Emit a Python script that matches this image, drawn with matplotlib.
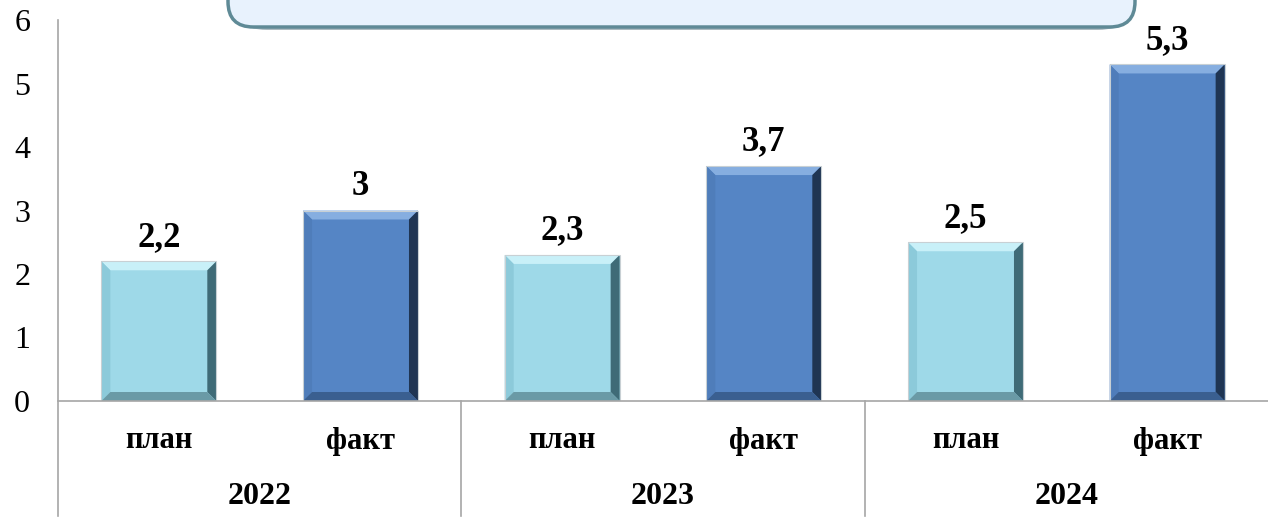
import matplotlib.pyplot as plt
from matplotlib.patches import Polygon, FancyBboxPatch
from matplotlib.lines import Line2D

years = ['2022', '2023', '2024']
kinds = ['план', 'факт']
plan = [2.2, 2.3, 2.5]
fakt = [3, 3.7, 5.3]
plan_lbl = ['2,2', '2,3', '2,5']
fakt_lbl = ['3', '3,7', '5,3']

plt.rcParams['font.family'] = ['Liberation Serif', 'DejaVu Serif']

W, H = 1268, 520
fig = plt.figure(figsize=(W / 100, H / 100), dpi=100)
ax = fig.add_axes([58 / W, 1 - 401 / H, 1 - 58 / W, (401 - 20) / H])
ax.set_xlim(0, 6)
ax.set_ylim(0, 6)

# пиксели -> единицы данных
px_x = 6 / (W - 58)
px_y = 6 / (401 - 20)

# цвета: лицевая грань, верх, левый, правый, низ
col_plan = ['#9ed9e8', '#c8f0f8', '#8ccada', '#3f6b77', '#6a9aa6']
col_fakt = ['#5585c5', '#86aee0', '#4f7dba', '#1f3553', '#3a5f90']

def bevel_bar(x0, w, h, cols):
    bx = 9 * px_x
    by = 9 * px_y
    x1 = x0 + w
    face, top, left, right, bot = cols
    ax.add_patch(Polygon([(x0, 0), (x1, 0), (x1, h), (x0, h)], closed=True, fc=face, ec='none'))
    ax.add_patch(Polygon([(x0, h), (x1, h), (x1 - bx, h - by), (x0 + bx, h - by)], fc=top, ec='none'))
    ax.add_patch(Polygon([(x0, 0), (x0 + bx, by), (x0 + bx, h - by), (x0, h)], fc=left, ec='none'))
    ax.add_patch(Polygon([(x1, 0), (x1, h), (x1 - bx, h - by), (x1 - bx, by)], fc=right, ec='none'))
    ax.add_patch(Polygon([(x0, 0), (x1, 0), (x1 - bx, by), (x0 + bx, by)], fc=bot, ec='none'))
    ax.add_patch(Polygon([(x0, 0), (x1, 0), (x1, h), (x0, h)], closed=True, fc='none',
                         ec='#c8d0d4', lw=0.8))

bw = 0.57
for i in range(3):
    for j, (vals, lbls, cols) in enumerate([(plan, plan_lbl, col_plan), (fakt, fakt_lbl, col_fakt)]):
        c = 2 * i + j + 0.5
        bevel_bar(c - bw / 2, bw, vals[i], cols)
        ax.text(c, vals[i] + 0.12, lbls[i], ha='center', va='bottom',
                fontsize=25, fontweight='bold')

for s in ['top', 'right', 'left']:
    ax.spines[s].set_visible(False)
ax.spines['bottom'].set_color('#a6a6a6')
ax.spines['bottom'].set_linewidth(1.2)
ax.set_yticks(range(7))
ax.set_yticklabels([str(v) for v in range(7)], fontsize=23)
ax.tick_params(axis='y', length=0, pad=20)
ax.set_xticks([])

# ось Y и разделители групп, уходящие вниз в область подписей
ax.add_line(Line2D([0, 0], [6, -115 * px_y], color='#a6a6a6', lw=1.2, clip_on=False))
for k in [2, 4]:
    ax.add_line(Line2D([k, k], [0, -115 * px_y], color='#a6a6a6', lw=1.2, clip_on=False))

# двухуровневые подписи категорий
for i in range(3):
    for j in range(2):
        ax.text(2 * i + j + 0.5, -40 * px_y, kinds[j], ha='center', va='center',
                fontsize=22, fontweight='bold')
    ax.text(2 * i + 1, -95 * px_y, years[i], ha='center', va='center',
            fontsize=23, fontweight='bold')

# рамка заголовка сверху (обрезана краем)
shadow = FancyBboxPatch((229 / W, 1 - 30 / H), (1135 - 228) / W, 0.2,
                        boxstyle='round,pad=0,rounding_size=0.03', transform=fig.transFigure,
                        fc='#8a9ea6', ec='none', mutation_aspect=W / H, zorder=5, alpha=0.7)
fig.patches.append(shadow)
box = FancyBboxPatch((228 / W, 1 - 27 / H), (1135 - 228) / W, 0.2,
                     boxstyle='round,pad=0,rounding_size=0.02', transform=fig.transFigure,
                     fc='#e8f2fd', ec='#5f8a96', lw=2.5, mutation_aspect=W / H, zorder=6)
fig.patches.append(box)

fig.savefig('out.png', dpi=100)
